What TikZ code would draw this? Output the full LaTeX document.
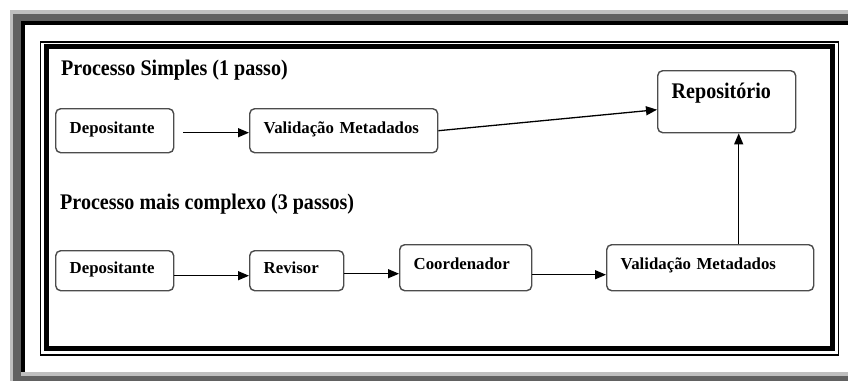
\documentclass[tikz,border=0pt]{standalone}
\usepackage{fontspec}
\setmainfont{Liberation Serif}
\newfontfamily\fonttitulo[FakeStretch=0.9]{Liberation Serif}
\usetikzlibrary{arrows.meta}

\tikzset{
  caixa/.style={draw=black!70, line width=1.4pt, rounded corners=5pt, anchor=north west,
    inner xsep=14pt, inner ysep=0pt, align=left, text height=25pt,
    font=\fontsize{16.8}{20}\selectfont\bfseries},
  seta/.style={-{Triangle[length=11pt,width=9pt]}, line width=1.3pt},
  titulo/.style={anchor=base west, inner sep=0pt, font=\fonttitulo\fontsize{22.3}{26}\selectfont\bfseries}
}

\begin{document}
\begin{tikzpicture}[x=1pt,y=-1pt]
\useasboundingbox (0,0) rectangle (848,381);
\fill[gray!50] (10,10) rectangle (848,381);
\fill[black!62] (13,14) rectangle (848,381);
\fill[gray!50] (21,21) rectangle (848,376);
\fill (21,21) rectangle (848,372);
\fill[white] (25,25) rectangle (848,372);
\draw[line width=1.5pt] (40.7,42.2) rectangle (838.3,355);
\draw[line width=5pt] (46,46.5) rectangle (832.5,348.7);

\node[titulo] (t1) at (61,75.5) {Processo Simples (1 passo)};
\node[titulo] (t2) at (60,209) {Processo mais complexo (3 passos)};

\node[caixa, text width=90pt, text depth=19pt] (dep1) at (55,108) {Depositante};
\node[caixa, text width=160pt, text depth=19pt] (val1) at (249,108) {Validação Metadados};
\node[caixa, text width=110pt, text height=28pt, text depth=34pt,
  font=\fonttitulo\fontsize{22.3}{26}\selectfont\bfseries] (repo) at (657,70) {Repositório};

\node[caixa, text width=90pt, text height=23pt, text depth=17pt] (dep2) at (55,250) {Depositante};
\node[caixa, text width=66pt, text height=23pt, text depth=17pt] (rev) at (249,250) {Revisor};
\node[caixa, text width=104pt, text depth=21pt] (coord) at (399,244) {Coordenador};
\node[caixa, text width=179pt, text depth=21pt] (val2) at (606,244) {Validação Metadados};

\draw[seta, shorten <=9pt] ([yshift=-2pt]dep1.east) -- ([yshift=-2pt]val1.west);
\draw[seta] (val1.east) -- ([yshift=-8pt]repo.west);
\draw[seta] ([yshift=-5pt]dep2.east) -- ([yshift=-5pt]rev.west);
\draw[seta] ([yshift=-3pt]rev.east) -- ([yshift=-6pt]coord.west);
\draw[seta] ([yshift=-7pt]coord.east) -- ([yshift=-7pt]val2.west);
\coordinate (v) at ([xshift=12pt]repo.south);
\draw[seta] (v |- val2.north) -- (v);
\end{tikzpicture}
\end{document}
